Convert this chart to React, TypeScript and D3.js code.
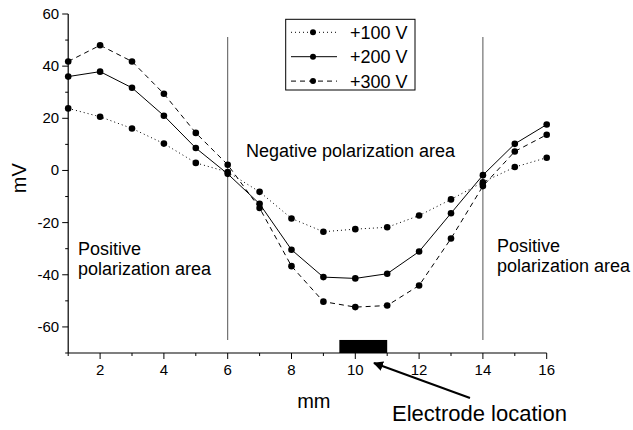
import React from "react";
import * as d3 from "d3";

const positions = [1, 2, 3, 4, 5, 6, 7, 8, 9, 10, 11, 12, 13, 14, 15, 16];
const v100 = [23.8, 20.6, 16.1, 10.3, 2.9, -0.6, -8.2, -18.4, -23.5, -22.5, -21.8, -17.3, -11.1, -4.5, 1.3, 4.9];
const v200 = [36.0, 37.9, 31.7, 21.0, 8.6, -1.3, -12.8, -30.4, -40.9, -41.4, -39.6, -31.1, -16.4, -1.8, 10.2, 17.6];
const v300 = [41.8, 48.0, 41.8, 29.4, 14.4, 2.2, -14.4, -36.7, -50.3, -52.4, -51.8, -44.1, -26.1, -6.0, 7.3, 13.7];
const seriesNames = ["+100 V", "+200 V", "+300 V"];
const yTicks = [-60, -40, -20, 0, 20, 40, 60];
const yMinor = [-70, -50, -30, -10, 10, 30, 50];
const xTicks = [2, 4, 6, 8, 10, 12, 14, 16];
const xMinor = [1, 3, 5, 7, 9, 11, 13, 15];
const boundaries = [6, 14];
const electrode = [9.5, 11];
const electrodeTop = -65;

const FONT = "'Liberation Sans', Arial, sans-serif";

export default function App() {
  const x = d3.scaleLinear().domain([1, 16]).range([68.2, 546.7]);
  const y = d3.scaleLinear().domain([-70, 60]).range([353, 14]);
  const dashes = ["1,3", "", "5,4"];
  const all = [v100, v200, v300];
  const line = d3
    .line<number>()
    .x((_, i) => x(positions[i]))
    .y((d) => y(d));

  return (
    <svg
      width={633}
      height={430}
      style={{ position: "absolute", left: 0, top: 0, background: "#fff" }}
      fontFamily={FONT}
    >
      <rect x={0} y={0} width={633} height={430} fill="#fff" />
      {/* boundary lines */}
      {boundaries.map((b) => (
        <line key={b} x1={x(b)} x2={x(b)} y1={37} y2={340} stroke="#555" strokeWidth={1} />
      ))}
      {/* electrode */}
      <rect
        x={x(electrode[0])}
        y={y(electrodeTop)}
        width={x(electrode[1]) - x(electrode[0])}
        height={y(-70) - y(electrodeTop)}
        fill="#000"
      />
      {/* axes */}
      <line x1={x(1)} x2={x(1)} y1={y(60)} y2={y(-70)} stroke="#000" strokeWidth={1.2} />
      <line x1={x(1)} x2={x(16)} y1={y(-70)} y2={y(-70)} stroke="#000" strokeWidth={1.2} />
      {yTicks.map((t) => (
        <g key={"y" + t}>
          <line x1={x(1) - 6} x2={x(1)} y1={y(t)} y2={y(t)} stroke="#000" />
          <text x={x(1) - 9} y={y(t) + 5} fontSize={15} textAnchor="end">
            {t}
          </text>
        </g>
      ))}
      {yMinor.map((t) => (
        <line key={"ym" + t} x1={x(1) - 3} x2={x(1)} y1={y(t)} y2={y(t)} stroke="#000" />
      ))}
      {xTicks.map((t) => (
        <g key={"x" + t}>
          <line x1={x(t)} x2={x(t)} y1={y(-70)} y2={y(-70) + 6} stroke="#000" />
          <text x={x(t)} y={y(-70) + 22} fontSize={15} textAnchor="middle">
            {t}
          </text>
        </g>
      ))}
      {xMinor.map((t) => (
        <line key={"xm" + t} x1={x(t)} x2={x(t)} y1={y(-70)} y2={y(-70) + 3} stroke="#000" />
      ))}
      {/* axis titles */}
      <text x={x(8.7)} y={408} fontSize={20} textAnchor="middle">
        mm
      </text>
      <text transform={`translate(26,${y(-3)}) rotate(-90)`} fontSize={20} textAnchor="middle">
        mV
      </text>
      {/* series */}
      {all.map((s, k) => (
        <g key={"s" + k}>
          <path d={line(s) || ""} fill="none" stroke="#000" strokeWidth={1} strokeDasharray={dashes[k]} />
          {s.map((v, i) => (
            <circle key={i} cx={x(positions[i])} cy={y(v)} r={3.3} fill="#000" />
          ))}
        </g>
      ))}
      {/* annotations */}
      <text x={246} y={157} fontSize={18}>
        Negative polarization area
      </text>
      <text x={78} y={255} fontSize={18}>
        <tspan x={78}>Positive</tspan>
        <tspan x={78} dy={20}>polarization area</tspan>
      </text>
      <text x={497} y={252} fontSize={18}>
        <tspan x={497}>Positive</tspan>
        <tspan x={497} dy={20}>polarization area</tspan>
      </text>
      <defs>
        <marker id="ah" viewBox="0 0 10 10" refX={9} refY={5} markerWidth={5} markerHeight={5} orient="auto">
          <path d="M0,0 L10,5 L0,10 z" fill="#000" />
        </marker>
      </defs>
      <line x1={470} y1={398} x2={374} y2={363} stroke="#000" strokeWidth={2} markerEnd="url(#ah)" />
      <text x={392} y={421} fontSize={22}>
        Electrode location
      </text>
      {/* legend */}
      <rect x={285.7} y={19.3} width={129.3} height={70.7} fill="#fff" stroke="#000" strokeWidth={1} />
      {seriesNames.map((n, k) => {
        const ry = 32.3 + k * 24.4;
        return (
          <g key={"l" + k}>
            <line x1={291} x2={337} y1={ry} y2={ry} stroke="#000" strokeDasharray={dashes[k]} />
            <circle cx={313} cy={ry} r={3} fill="#000" />
            <text x={350} y={ry + 6.5} fontSize={18}>
              {n}
            </text>
          </g>
        );
      })}
    </svg>
  );
}
